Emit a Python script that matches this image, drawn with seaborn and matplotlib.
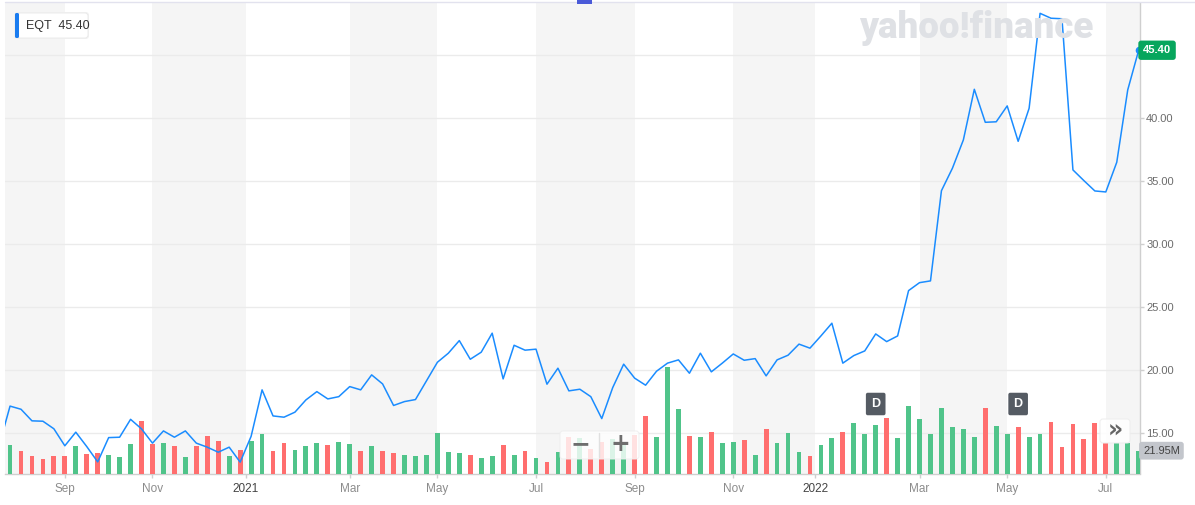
import numpy as np
import pandas as pd
import matplotlib
matplotlib.use("Agg")
import matplotlib.pyplot as plt
import matplotlib.transforms as mtransforms
from matplotlib.patches import FancyBboxPatch, Rectangle
from matplotlib.lines import Line2D
import seaborn as sns

# ---- data (weekly, EQT) ----
ticker = "EQT"
first_week = "2020-08-02"
prev_close = 14.0          # week just before the visible window
closes = [
    17.15, 16.90, 15.98, 15.95, 15.35, 14.00, 15.08, 13.94, 12.72, 14.65,
    14.68, 16.10, 15.34, 14.21, 15.18, 14.68, 15.18, 14.21, 13.89, 13.49,
    13.89, 12.70, 14.75, 18.44, 16.37, 16.27, 16.67, 17.64, 18.30, 17.72,
    17.90, 18.70, 18.44, 19.63, 18.91, 17.20, 17.51, 17.67, 19.15, 20.63,
    21.35, 22.35, 20.87, 21.43, 22.94, 19.31, 21.98, 21.59, 21.67, 18.89,
    20.16, 18.36, 18.49, 17.90, 16.16, 18.62, 20.48, 19.37, 18.81, 19.92,
    20.56, 20.82, 19.76, 21.35, 19.87, 20.56, 21.29, 20.79, 20.92, 19.55,
    20.82, 21.19, 22.07, 21.75, 22.72, 23.73, 20.56, 21.16, 21.53, 22.88,
    22.27, 22.72, 26.32, 26.95, 27.09, 34.25, 36.03, 38.28, 42.30, 39.68,
    39.72, 40.98, 38.17, 40.79, 48.33, 47.94, 47.90, 35.90, 35.05, 34.23,
    34.15, 36.51, 42.25, 45.40,
]
volumes_m = [
    27.6, 22.1, 17.0, 14.2, 17.0, 17.0, 26.7, 19.0, 19.9, 18.0,
    16.1, 28.6, 50.1, 28.6, 29.6, 26.7, 16.1, 26.7, 36.3, 31.5,
    17.0, 22.8, 31.5, 38.2, 21.9, 29.6, 22.8, 26.7, 29.6, 27.6,
    30.5, 28.6, 21.9, 26.7, 21.9, 19.9, 18.0, 17.0, 18.0, 39.2,
    20.9, 19.9, 18.0, 15.1, 17.0, 27.6, 18.0, 21.9, 15.1, 11.3,
    20.9, 35.1, 34.1, 23.7, 30.5, 33.3, 29.8, 37.2, 54.9, 35.3,
    103.0, 62.3, 36.3, 35.3, 40.1, 29.6, 30.5, 32.4, 18.0, 43.0,
    29.6, 39.2, 20.9, 17.0, 27.6, 34.4, 40.1, 48.8, 38.2, 46.9,
    53.6, 34.4, 65.2, 52.7, 38.2, 63.2, 45.0, 43.0, 35.3, 63.2,
    45.9, 38.2, 45.0, 35.3, 38.2, 49.8, 25.7, 47.8, 33.4, 48.8,
    29.4, 29.8, 29.8, 21.95,
]
dividend_dates = ["2022-02-09", "2022-05-10"]

weeks = pd.date_range(first_week, periods=len(closes), freq="7D")
idx = np.arange(len(closes))
df = pd.DataFrame({"week": idx, "close": closes, "volume": volumes_m})
df["dir"] = np.where(np.diff(np.r_[prev_close, closes]) >= 0, "up", "down")

# month ticks every two months, year ticks sit between the Dec and Jan bars
tick_pos, tick_lab, tick_year = [], [], []
for i in range(1, len(weeks)):
    m = weeks[i].month
    if m != weeks[i - 1].month and m % 2 == 1:
        if m == 1:
            tick_pos.append(i - 0.5)
            tick_lab.append(str(weeks[i].year))
            tick_year.append(True)
        else:
            tick_pos.append(i)
            tick_lab.append(weeks[i].strftime("%b"))
            tick_year.append(False)

# ---- style ----
W, H = 1195, 505
sns.set_theme(style="white")
plt.rcParams["font.family"] = ["Liberation Sans", "DejaVu Sans"]

blue = "#1a8cff"
green = "#50c48a"
red = "#ff6e6e"
band = "#f5f5f5"
axis_grey = "#cfcfcf"

fig = plt.figure(figsize=(W / 100, H / 100), dpi=100)
fig.patch.set_facecolor("white")
left, right, top, bottom = 5, 1140, 3, 473.5
ax = fig.add_axes([left / W, 1 - bottom / H, (right - left) / W, (bottom - top) / H])
ax_vol = ax.twinx()
ax_line = ax.twinx()
ax.yaxis.tick_right()

xmin, xmax = -0.46, 103.12
ax.set_xlim(xmin, xmax)
ax.set_ylim(11.8, 49.15)
ax.set_facecolor("white")

# alternating month bands
edges = [xmin] + tick_pos + [xmax]
for k in range(len(edges) - 1):
    if k % 2 == 0:
        ax.axvspan(edges[k], edges[k + 1], color=band, lw=0, zorder=0)

ax.set_yticks(range(15, 50, 5))
ax.set_yticklabels([f"{v:.2f}" if v < 45 else "" for v in range(15, 50, 5)])
ax.grid(axis="y", color="#ebebeb", lw=1)
ax.grid(axis="x", visible=False)
ax.set_xticks(tick_pos)
ax.set_xticklabels(tick_lab)
for lab, yr in zip(ax.get_xticklabels(), tick_year):
    lab.set_color("#444444" if yr else "#8c8c8c")
ax.tick_params(axis="y", right=True, left=False, length=3, width=1,
               color=axis_grey, labelsize=8, labelcolor="#6b6b6b", pad=1.5)
ax.tick_params(axis="x", bottom=True, length=3, width=1, color=axis_grey,
               labelsize=8.5, pad=3.5)
for s in ["left", "top"]:
    ax.spines[s].set_visible(False)
for s in ["right", "bottom"]:
    ax.spines[s].set_color(axis_grey)
    ax.spines[s].set_linewidth(1)

# volume bars
sns.barplot(data=df, x="week", y="volume", hue="dir",
            palette={"up": green, "down": red}, dodge=False, native_scale=True,
            width=0.44, errorbar=None, legend=False, saturation=1,
            linewidth=0, ax=ax_vol)
ax_vol.set_ylim(0, (bottom - top) * 21.95 / 22.8)

# price line
line_x = np.r_[-1, idx]
line_y = np.r_[prev_close, closes]
sns.lineplot(x=line_x, y=line_y, ax=ax_line, color=blue, lw=1.1)
ax_line.scatter([idx[-1]], [closes[-1]], s=20, color=blue, zorder=5, clip_on=False)
ax_line.set_ylim(ax.get_ylim())

for a in (ax_vol, ax_line):
    a.set_yticks([])
    a.set_xlabel("")
    a.set_ylabel("")
    for s in a.spines.values():
        s.set_visible(False)
ax.set_xlim(xmin, xmax)

# last price / last volume tags on the right edge
tr_price = mtransforms.blended_transform_factory(ax.transAxes, ax_line.transData)
ax_line.text(1.0 + 3 / (right - left), closes[-1], f"{closes[-1]:.2f}", transform=tr_price,
             ha="left", va="center", color="white", fontsize=8, fontweight="bold",
             clip_on=False, zorder=10,
             bbox=dict(boxstyle="round,pad=0.42,rounding_size=0.25", fc="#07a65d", ec="none"))
tr_vol = mtransforms.blended_transform_factory(ax.transAxes, ax_vol.transData)
ax_vol.text(1.0 + 3 / (right - left), volumes_m[-1], f"{volumes_m[-1]:.2f}M", transform=tr_vol,
            ha="left", va="center", color="#444444", fontsize=8, clip_on=False, zorder=10,
            bbox=dict(boxstyle="round,pad=0.35,rounding_size=0.25", fc="#c3c6cc", ec="none"))

# dividend markers
tr_div = mtransforms.blended_transform_factory(ax_vol.transData, ax_vol.transAxes)
for d in dividend_dates:
    wk = weeks.searchsorted(pd.Timestamp(d), side="right") - 1
    ax_vol.text(wk, (bottom - 404) / (bottom - top), "D", transform=tr_div,
                ha="center", va="center", color="white", fontsize=9, fontweight="bold",
                zorder=10, bbox=dict(boxstyle="round,pad=0.42,rounding_size=0.15",
                                     fc="#555b63", ec="none"))

# ---- chrome drawn in figure pixels ----
ident = mtransforms.IdentityTransform()


def px_box(x0, y0, x1, y1, r=3, **kw):
    p = FancyBboxPatch((x0, H - y1), x1 - x0, y1 - y0,
                       boxstyle=f"round,pad=0,rounding_size={r}", transform=ident, **kw)
    fig.patches.append(p)
    return p


def px_text(x, y, s, **kw):
    return fig.text(x, H - y, s, transform=ident, **kw)


# top border and centre handle
fig.lines.append(Line2D([left, W], [H - 2, H - 2], transform=ident, color="#e2e2ee", lw=1))
handle = Rectangle((577, H - 4), 15, 4, transform=ident, fc="#4a5ad8", ec="none", zorder=5)
fig.patches.append(handle)

# watermark
px_text(859, 28.5, "yahoo!finance", fontsize=26.5, fontweight="black", color="#dfe1e5",
        family=["Roboto", "DejaVu Sans"], ha="left", va="center")

# ticker legend box
px_box(14, 12, 89, 39, r=3, fc="#f2f2f2", ec="none")
px_box(15, 13, 88, 38, r=3, fc="white", ec="#e9e9e9", lw=0.6)
px_box(15, 13, 19, 38, r=1.5, fc="#1a7cf0", ec="none")
px_text(26, 25.5, f"{ticker}  {closes[-1]:.2f}", fontsize=9, color="#333333",
        ha="left", va="center")

# zoom controls
px_box(560, 431, 639, 459, r=3, fc="white", ec="#eeeeee", lw=0.8, alpha=0.8)
fig.lines.append(Line2D([599, 599], [H - 433, H - 457], transform=ident, color="#e0e0e0", lw=1))
px_text(580, 444, "\u2212", fontsize=17, fontweight="bold", color="#6e6e6e",
        ha="center", va="center", family=["DejaVu Sans"])
px_text(620, 444, "+", fontsize=17, fontweight="bold", color="#6e6e6e",
        ha="center", va="center", family=["DejaVu Sans"])

# scroll-to-end button
px_box(1100, 419, 1130, 443, r=3, fc="white", ec="#eeeeee", lw=0.8, alpha=0.9)
px_text(1115, 430.5, "\u00bb", fontsize=17, fontweight="bold", color="#666666",
        ha="center", va="center", family=["DejaVu Sans"])

fig.savefig("out.png", dpi=100)
